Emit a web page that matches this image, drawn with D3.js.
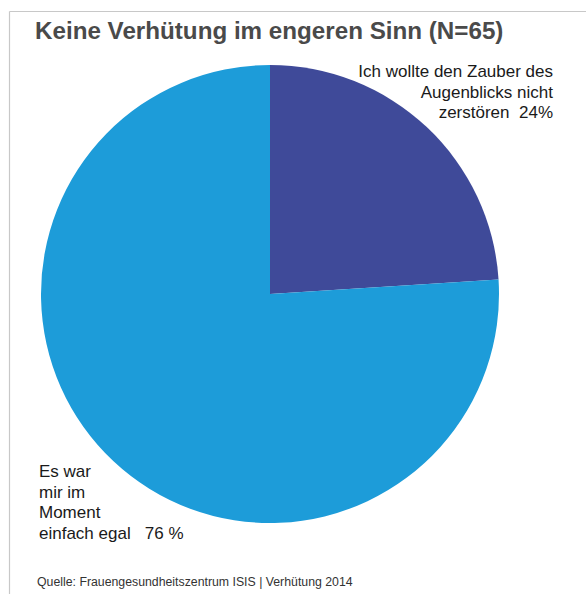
<!DOCTYPE html>
<html><head><meta charset="utf-8">
<script src="https://cdn.jsdelivr.net/npm/d3@7"></script>
<style>body{margin:0;background:#fff;} svg{display:block;font-family:"Liberation Sans",Arial,Helvetica,sans-serif;} text{white-space:pre;}</style>
</head><body>
<script>
const categories = ["Ich wollte den Zauber des Augenblicks nicht zerstören", "Es war mir im Moment einfach egal"];
const values = [24, 76];
const colors = ["#3F4A99", "#1D9CD9"];
const labelLines = [
  ["Ich wollte den Zauber des", "Augenblicks nicht", "zerstören  24%"],
  ["Es war", "mir im", "Moment", "einfach egal   76 %"]
];
const title = "Keine Verhütung im engeren Sinn (N=65)";
const source = "Quelle: Frauengesundheitszentrum ISIS | Verhütung 2014";

const W = 586, H = 594;
const svg = d3.select("body").append("svg").attr("width", W).attr("height", H);

// frame lines
svg.append("line").attr("x1", 9.5).attr("x2", W).attr("y1", 11.5).attr("y2", 11.5).attr("stroke", "#c8c8c8").attr("stroke-width", 1.2);
svg.append("line").attr("x1", 9.5).attr("x2", 9.5).attr("y1", 11.5).attr("y2", H).attr("stroke", "#c8c8c8").attr("stroke-width", 1.2);

svg.append("text").attr("x", 35).attr("y", 39).attr("font-size", 24.2).attr("font-weight", "bold")
  .attr("fill", "#4a4a4a").text(title);

const cx = 270, cy = 294, r = 229;
const pie = d3.pie().sort(null).value(d => d)(values);
const arc = d3.arc().innerRadius(0).outerRadius(r);
const g = svg.append("g").attr("transform", `translate(${cx},${cy})`);
g.selectAll("path").data(pie).join("path").attr("d", arc).attr("fill", (d, i) => colors[i]);

// labels
const l1 = svg.append("text").attr("font-size", 17).attr("fill", "#1a1a1a").attr("text-anchor", "end");
labelLines[0].forEach((t, i) => l1.append("tspan").attr("x", 553).attr("y", 77 + i * 20.5).text(t));
const l2 = svg.append("text").attr("font-size", 17).attr("fill", "#1a1a1a");
labelLines[1].forEach((t, i) => l2.append("tspan").attr("x", 39).attr("y", 477 + i * 20.5).text(t));

svg.append("text").attr("x", 37).attr("y", 586).attr("font-size", 12.3).attr("fill", "#333").text(source);
</script>
</body></html>
